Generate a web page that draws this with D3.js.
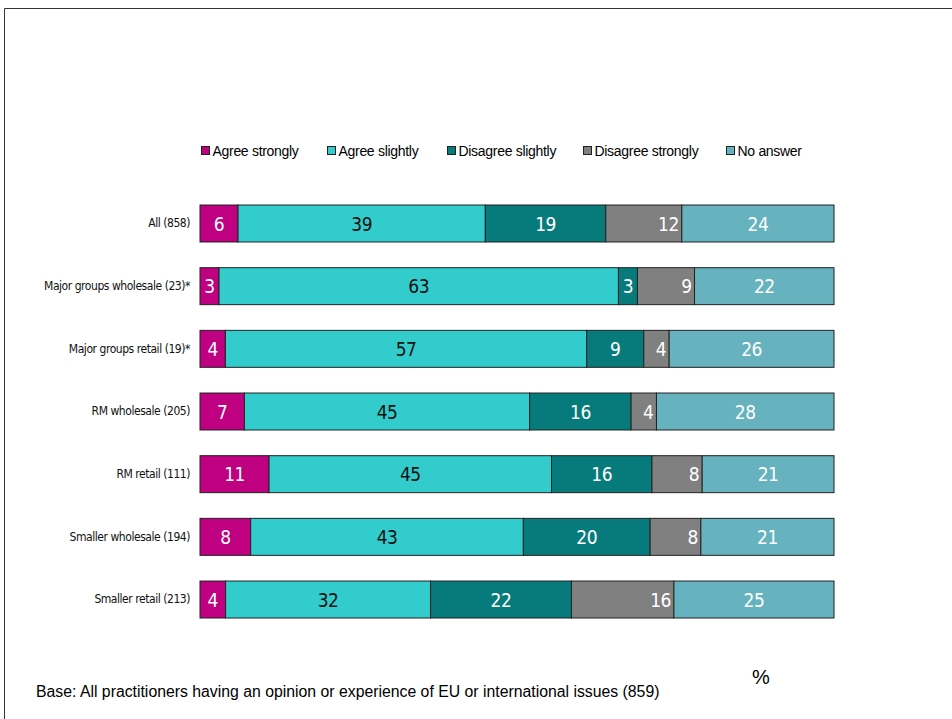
<!DOCTYPE html>
<html>
<head>
<meta charset="utf-8">
<script src="https://cdn.jsdelivr.net/npm/d3@7"></script>
<style>
  html, body { margin: 0; padding: 0; background: #fff; }
  svg { display: block; }
</style>
</head>
<body>
<svg id="chart" width="952" height="719"></svg>
<script>
// Categories (rows, top to bottom)
const categories = [
  "All (858)",
  "Major groups wholesale (23)*",
  "Major groups retail (19)*",
  "RM wholesale (205)",
  "RM retail (111)",
  "Smaller wholesale (194)",
  "Smaller retail (213)"
];

// Response series
const seriesNames = ["Agree strongly", "Agree slightly", "Disagree slightly", "Disagree strongly", "No answer"];
const seriesColors = ["#BE0081", "#33CCCC", "#077B7B", "#808080", "#66B2BE"];
const labelColors = ["#ffffff", "#111111", "#ffffff", "#ffffff", "#ffffff"];

// Percentages per series, one value per category
const agreeStrongly    = [6, 3, 4, 7, 11, 8, 4];
const agreeSlightly    = [39, 63, 57, 45, 45, 43, 32];
const disagreeSlightly = [19, 3, 9, 16, 16, 20, 22];
const disagreeStrongly = [12, 9, 4, 4, 8, 8, 16];
const noAnswer         = [24, 22, 26, 28, 21, 21, 25];

const footnote = "Base: All practitioners having an opinion or experience of EU or international issues (859)";
const unitLabel = "%";

const seriesValues = [agreeStrongly, agreeSlightly, disagreeSlightly, disagreeStrongly, noAnswer];
const rows = categories.map((c, i) => {
  const r = { category: c };
  seriesNames.forEach((s, k) => { r[s] = seriesValues[k][i]; });
  return r;
});

const svg = d3.select("#chart");

// Frame line along the top and left
svg.append("path")
  .attr("d", "M4.5,719 L4.5,8.5 L952,8.5")
  .attr("fill", "none")
  .attr("stroke", "#333")
  .attr("stroke-width", 1);

// 100% stacked layout
const stack = d3.stack().keys(seriesNames).offset(d3.stackOffsetExpand);
const layers = stack(rows);

const x = d3.scaleLinear().domain([0, 1]).range([200, 834]);
const step = 62.67;
const y = d3.scaleBand()
  .domain(categories)
  .range([223.5 - step / 2, 223.5 - step / 2 + step * categories.length])
  .paddingInner(0.41)
  .paddingOuter(0.205);

const color = d3.scaleOrdinal().domain(seriesNames).range(seriesColors);

// Bars
const layerG = svg.append("g").selectAll("g")
  .data(layers)
  .join("g")
  .attr("fill", d => color(d.key));

layerG.selectAll("rect")
  .data(d => d.map(p => ({ p, key: d.key })))
  .join("rect")
  .attr("x", d => x(d.p[0]))
  .attr("y", d => y(d.p.data.category))
  .attr("width", d => x(d.p[1]) - x(d.p[0]))
  .attr("height", y.bandwidth())
  .attr("stroke", "#222")
  .attr("stroke-width", 1);

// Value labels
layers.forEach((layer, k) => {
  svg.append("g").selectAll("text")
    .data(layer)
    .join("text")
    .attr("x", p => k === 3 ? x(p[1]) - 3 : (x(p[0]) + x(p[1])) / 2)
    .attr("y", p => y(p.data.category) + y.bandwidth() / 2 + 7)
    .attr("text-anchor", k === 3 ? "end" : "middle")
    .attr("font-family", "'DejaVu Sans Condensed', 'DejaVu Sans', sans-serif")
    .attr("font-size", 19)
    .attr("letter-spacing", -0.5)
    .attr("fill", labelColors[k])
    .text(p => p.data[layer.key]);
});

// Category axis labels
const yAxis = d3.axisLeft(y).tickSize(0).tickPadding(0);
const axisG = svg.append("g")
  .attr("transform", "translate(190,0)")
  .call(yAxis);
axisG.select(".domain").remove();
axisG.selectAll("text")
  .attr("font-family", "'DejaVu Sans Condensed', 'DejaVu Sans', sans-serif")
  .attr("font-size", 12)
  .attr("letter-spacing", -0.45)
  .attr("fill", "#111");

// Legend
const legendX = [201, 327, 447, 583, 726];
const legend = svg.append("g").selectAll("g")
  .data(seriesNames)
  .join("g")
  .attr("transform", (d, i) => `translate(${legendX[i]},146)`);
legend.append("rect")
  .attr("x", 0.5).attr("y", 0.5)
  .attr("width", 8).attr("height", 8)
  .attr("fill", d => color(d))
  .attr("stroke", "#222")
  .attr("stroke-width", 1);
legend.append("text")
  .attr("x", 11.5)
  .attr("y", 10)
  .attr("font-family", "'Liberation Sans', Arial, sans-serif")
  .attr("font-size", 14)
  .attr("letter-spacing", -0.3)
  .attr("fill", "#000")
  .text(d => d);

// Unit marker and base note
svg.append("text")
  .attr("x", 752).attr("y", 684)
  .attr("font-family", "'Liberation Sans', Arial, sans-serif")
  .attr("font-size", 20)
  .attr("fill", "#000")
  .text(unitLabel);

svg.append("text")
  .attr("x", 36).attr("y", 697)
  .attr("font-family", "'Liberation Sans', Arial, sans-serif")
  .attr("font-size", 15.8)
  .attr("fill", "#000")
  .text(footnote);
</script>
</body>
</html>
